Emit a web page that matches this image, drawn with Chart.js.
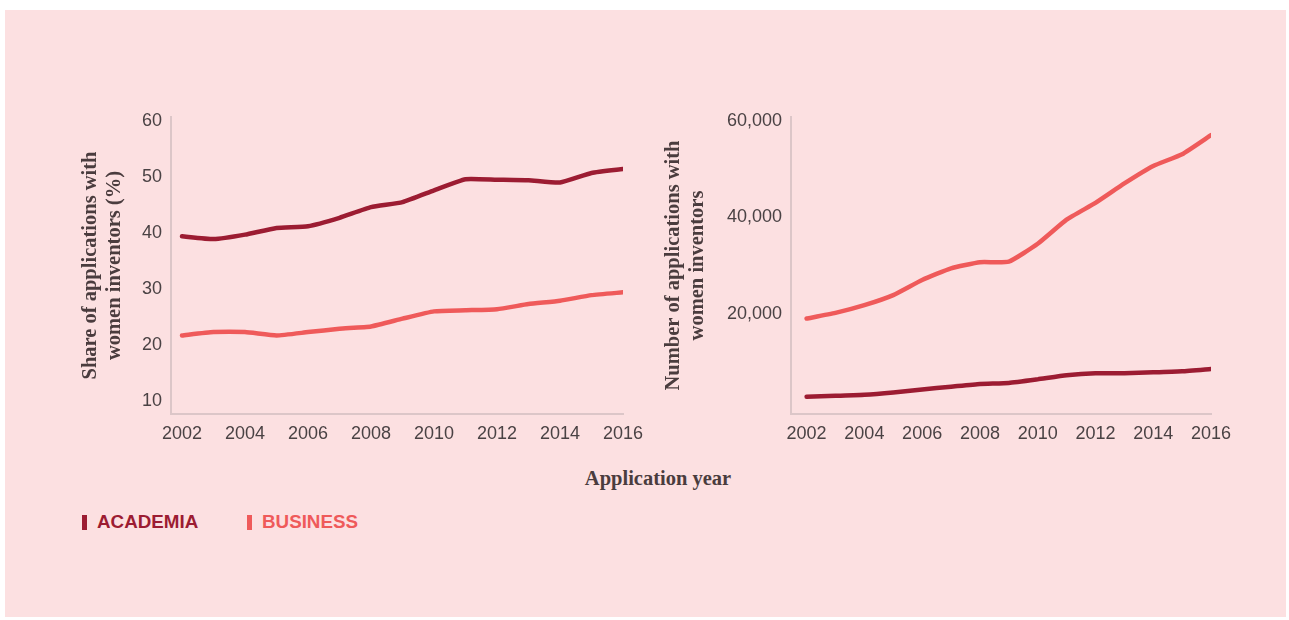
<!DOCTYPE html>
<html>
<head>
<meta charset="utf-8">
<script src="https://cdn.jsdelivr.net/npm/chart.js@4/dist/chart.umd.min.js"></script>
<style>
  html, body { margin: 0; padding: 0; background: #ffffff; }
  body { width: 1289px; height: 620px; position: relative; overflow: hidden; }
  #panel { position: absolute; left: 5px; top: 10px; width: 1281px; height: 607px; background: #fce0e1; }
  .cw { position: absolute; }
  #c1w { left: 60px; top: 95px; width: 600px; height: 370px; }
  #c2w { left: 650px; top: 95px; width: 600px; height: 370px; }
  #xtitle { position: absolute; left: 508px; width: 300px; top: 467px; text-align: center;
            font-family: "Liberation Serif", "DejaVu Serif", serif; font-weight: bold; font-size: 20.5px; color: #4a3c3e; }
  .leg { position: absolute; top: 511px; font-family: "Liberation Sans", Arial, sans-serif; font-weight: bold; font-size: 18.8px; line-height: 22px; }
  .leg .mk { position: absolute; left: 0; top: 4px; width: 5px; height: 15px; }
  .leg .tx { position: absolute; left: 15px; top: 0; white-space: nowrap; }
  #legA { left: 82px; color: #9c1c32; }
  #legA .mk { background: #9c1c32; }
  #legB { left: 247px; color: #ef5a5a; }
  #legB .mk { background: #ef5a5a; }
</style>
</head>
<body>
<div id="panel"></div>
<div class="cw" id="c1w"><canvas id="c1" width="600" height="370"></canvas></div>
<div class="cw" id="c2w"><canvas id="c2" width="600" height="370"></canvas></div>
<div id="xtitle">Application year</div>
<div class="leg" id="legA"><span class="mk"></span><span class="tx">ACADEMIA</span></div>
<div class="leg" id="legB"><span class="mk"></span><span class="tx">BUSINESS</span></div>
<script>
const years = [2002, 2003, 2004, 2005, 2006, 2007, 2008, 2009, 2010, 2011, 2012, 2013, 2014, 2015, 2016];
const xTickYears = [2002, 2004, 2006, 2008, 2010, 2012, 2014, 2016];

const shareAcademia = [39.4, 38.9, 39.7, 40.9, 41.2, 42.7, 44.6, 45.5, 47.6, 49.6, 49.5, 49.4, 49.0, 50.7, 51.4];
const shareBusiness = [21.7, 22.3, 22.3, 21.7, 22.3, 22.9, 23.3, 24.7, 26.0, 26.2, 26.4, 27.3, 27.9, 28.9, 29.4];
const shareTicks = [10, 20, 30, 40, 50, 60];

const countAcademia = [2740, 2940, 3150, 3630, 4260, 4820, 5390, 5600, 6350, 7180, 7600, 7600, 7810, 8020, 8520];
const countBusiness = [18960, 20130, 21730, 23820, 26950, 29390, 30650, 30770, 34470, 39480, 42960, 46990, 50610, 53050, 57010];
const countTicks = [20000, 40000, 60000];

const seriesNames = ['ACADEMIA', 'BUSINESS'];
const colAcademia = '#9c1c32';
const colBusiness = '#ef5a5a';
const tickColor = '#4a4244';
const titleColor = '#4a3c3e';
const axisColor = '#dcc6c8';

function pts(vals) { return years.map((y, i) => ({ x: y, y: vals[i] })); }

function makeChart(id, cfg) {
  return new Chart(document.getElementById(id), {
    type: 'line',
    data: {
      datasets: [
        { label: seriesNames[0], data: pts(cfg.a), borderColor: colAcademia, backgroundColor: colAcademia,
          borderWidth: 4.5, pointRadius: 0, tension: 0.15, borderCapStyle: 'round', borderJoinStyle: 'round' },
        { label: seriesNames[1], data: pts(cfg.b), borderColor: colBusiness, backgroundColor: colBusiness,
          borderWidth: 4.5, pointRadius: 0, tension: 0.15, borderCapStyle: 'round', borderJoinStyle: 'round' }
      ]
    },
    options: {
      responsive: false,
      animation: false,
      devicePixelRatio: 1,
      layout: { padding: { left: 0, top: 22, right: cfg.padRight, bottom: 0 } },
      plugins: { legend: { display: false }, tooltip: { enabled: false } },
      scales: {
        x: {
          type: 'linear',
          min: cfg.xmin, max: 2016,
          afterBuildTicks: s => { s.ticks = xTickYears.map(v => ({ value: v })); },
          afterFit: s => { s.height = 51; },
          grid: { display: false, drawTicks: false },
          border: { display: true, color: axisColor, width: 2 },
          ticks: { color: tickColor, padding: 9, maxRotation: 0, autoSkip: false,
                   font: { family: '"Liberation Sans", Arial, sans-serif', size: 18 },
                   callback: v => String(v) }
        },
        y: {
          type: 'linear',
          min: cfg.ymin, max: cfg.ymax,
          afterBuildTicks: s => { s.ticks = cfg.ticks.map(v => ({ value: v })); },
          afterFit: s => { s.width = cfg.yWidth; },
          grid: { display: false, drawTicks: false },
          border: { display: true, color: axisColor, width: 2 },
          ticks: { color: tickColor, padding: 9,
                   font: { family: '"Liberation Sans", Arial, sans-serif', size: 18 },
                   callback: v => v.toLocaleString('en-US') },
          title: { display: true, text: cfg.title, color: titleColor,
                   padding: { top: cfg.titlePad, bottom: 0 },
                   font: { family: '"Liberation Serif", "DejaVu Serif", serif', weight: 'bold', size: 20.5, lineHeight: 1.15 } }
        }
      }
    }
  });
}

makeChart('c1', {
  a: shareAcademia, b: shareBusiness, ticks: shareTicks,
  ymin: 7.68, ymax: 60.7, xmin: 2001.65,
  yWidth: 111, padRight: 37, titlePad: 19,
  title: ['Share of applications with', 'women inventors (%)']
});

makeChart('c2', {
  a: countAcademia, b: countBusiness, ticks: countTicks,
  ymin: -835, ymax: 60770, xmin: 2001.46,
  yWidth: 141, padRight: 39, titlePad: 12,
  title: ['Number of applications with', 'women inventors']
});
</script>
</body>
</html>
